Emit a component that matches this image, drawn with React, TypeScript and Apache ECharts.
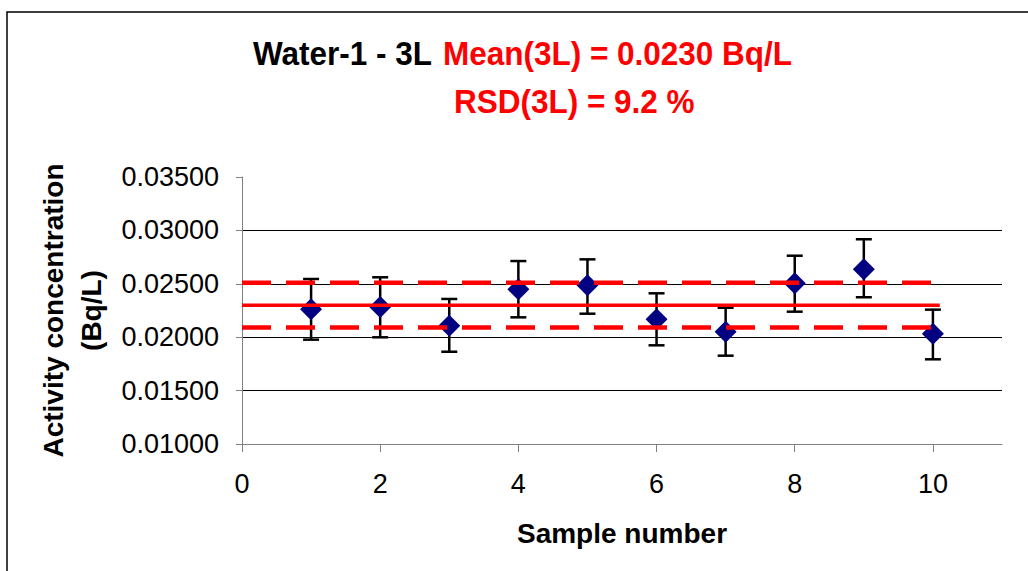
import React, { useEffect, useRef } from "react";
import * as echarts from "echarts";

// ---- Data ----
const sampleNumbers = [1, 2, 3, 4, 5, 6, 7, 8, 9, 10];
const activity = [0.02261, 0.02283, 0.02108, 0.02448, 0.02486, 0.02167, 0.02052, 0.02505, 0.02636, 0.02033];
const errLow = [0.01977, 0.01999, 0.01864, 0.02186, 0.0222, 0.01924, 0.01827, 0.02239, 0.02374, 0.01793];
const errHigh = [0.02545, 0.02561, 0.02358, 0.02713, 0.02729, 0.02411, 0.02276, 0.02763, 0.02917, 0.02258];

const refLineX = [0, 10.1];
const meanValue = 0.023;
const upperValue = 0.0251;
const lowerValue = 0.0209;

const xTicks = [0, 2, 4, 6, 8, 10];

const titleBlack = "Water-1 - 3L";
const titleRed = "Mean(3L) = 0.0230 Bq/L";
const titleLine2 = "RSD(3L) = 9.2 %";
const xName = "Sample number";
const yName = "Activity concentration\n(Bq/L)";

const FONT = "'Liberation Sans', Arial, sans-serif";

export default function App() {
  const ref = useRef<HTMLDivElement>(null);

  useEffect(() => {
    document.body.style.margin = "0";
    const chart = echarts.init(ref.current as HTMLDivElement, null, { renderer: "svg" });

    const points = sampleNumbers.map((x, i) => [x, activity[i]]);
    const errData = sampleNumbers.map((x, i) => [x, errLow[i], errHigh[i]]);
    const hLine = (v: number) => refLineX.map((x) => [x, v]);

    const titleStyle = (text: string, fill: string) => ({
      text,
      fill,
      font: `bold 31.5px ${FONT}`,
      align: "left",
      verticalAlign: "middle",
    });

    const option: any = {
      animation: false,
      backgroundColor: "#fff",
      textStyle: { fontFamily: FONT },
      grid: { left: 242, right: 26, top: 177, bottom: 127, containLabel: false },
      graphic: [
        {
          type: "rect",
          silent: true,
          shape: { x: 7, y: 12, width: 1060, height: 600 },
          style: { fill: "none", stroke: "#000", lineWidth: 1.5 },
        },
        { type: "text", x: 253, y: 54, scaleY: 1.05, style: titleStyle(titleBlack, "#000") },
        { type: "text", x: 443, y: 54, scaleY: 1.05, style: titleStyle(titleRed, "#FF0000") },
        { type: "text", x: 454, y: 102, scaleY: 1.05, style: titleStyle(titleLine2, "#FF0000") },
      ],
      xAxis: {
        type: "value",
        min: 0,
        max: 11,
        interval: 2,
        name: xName,
        nameLocation: "middle",
        nameGap: 75,
        nameTextStyle: { fontFamily: FONT, fontSize: 28, fontWeight: "bold", color: "#000" },
        axisLine: { show: true, onZero: false, lineStyle: { color: "#808080", width: 1 } },
        axisTick: { show: true, length: 8, lineStyle: { color: "#808080" }, customValues: xTicks },
        axisLabel: { fontFamily: FONT, fontSize: 27, color: "#000", margin: 26, customValues: xTicks },
        splitLine: { show: false },
      },
      yAxis: {
        type: "value",
        min: 0.01,
        max: 0.035,
        interval: 0.005,
        name: yName,
        nameLocation: "middle",
        nameGap: 132,
        nameRotate: 90,
        nameTextStyle: {
          fontFamily: FONT,
          fontSize: 28,
          fontWeight: "bold",
          color: "#000",
          lineHeight: 38,
          align: "center",
        },
        axisLine: { show: true, lineStyle: { color: "#808080", width: 1 } },
        axisTick: { show: true, length: 6, lineStyle: { color: "#808080" } },
        axisLabel: {
          fontFamily: FONT,
          fontSize: 27,
          color: "#000",
          margin: 23,
          formatter: (v: number) => v.toFixed(5),
        },
        splitLine: {
          show: true,
          showMinLine: false,
          showMaxLine: false,
          lineStyle: { color: "#000", width: 1 },
        },
      },
      series: [
        {
          type: "custom",
          name: "error",
          z: 2,
          data: errData,
          encode: { x: 0, y: [1, 2] },
          renderItem: (params: any, api: any) => {
            const x = api.value(0);
            const lo = api.coord([x, api.value(1)]);
            const hi = api.coord([x, api.value(2)]);
            const half = 8;
            const style = { stroke: "#000", lineWidth: 2.5, fill: "none" };
            return {
              type: "group",
              children: [
                { type: "line", shape: { x1: lo[0], y1: lo[1], x2: hi[0], y2: hi[1] }, style },
                { type: "line", shape: { x1: lo[0] - half, y1: lo[1], x2: lo[0] + half, y2: lo[1] }, style },
                { type: "line", shape: { x1: hi[0] - half, y1: hi[1], x2: hi[0] + half, y2: hi[1] }, style },
              ],
            };
          },
        },
        {
          type: "scatter",
          name: "Activity",
          z: 3,
          symbol: "diamond",
          symbolSize: [22, 22],
          itemStyle: { color: "#000080", opacity: 1 },
          data: points,
        },
        {
          type: "line",
          name: "Mean",
          z: 4,
          symbol: "none",
          data: hLine(meanValue),
          lineStyle: { color: "#FF0000", width: 3.5 },
        },
        {
          type: "line",
          name: "Upper",
          z: 4,
          symbol: "none",
          data: hLine(upperValue),
          lineStyle: { color: "#FF0000", width: 4.5, type: [29, 15] },
        },
        {
          type: "line",
          name: "Lower",
          z: 4,
          symbol: "none",
          data: hLine(lowerValue),
          lineStyle: { color: "#FF0000", width: 4.5, type: [29, 15] },
        },
      ],
    };

    chart.setOption(option);
    return () => chart.dispose();
  }, []);

  return <div ref={ref} style={{ width: 1028, height: 571 }} />;
}
